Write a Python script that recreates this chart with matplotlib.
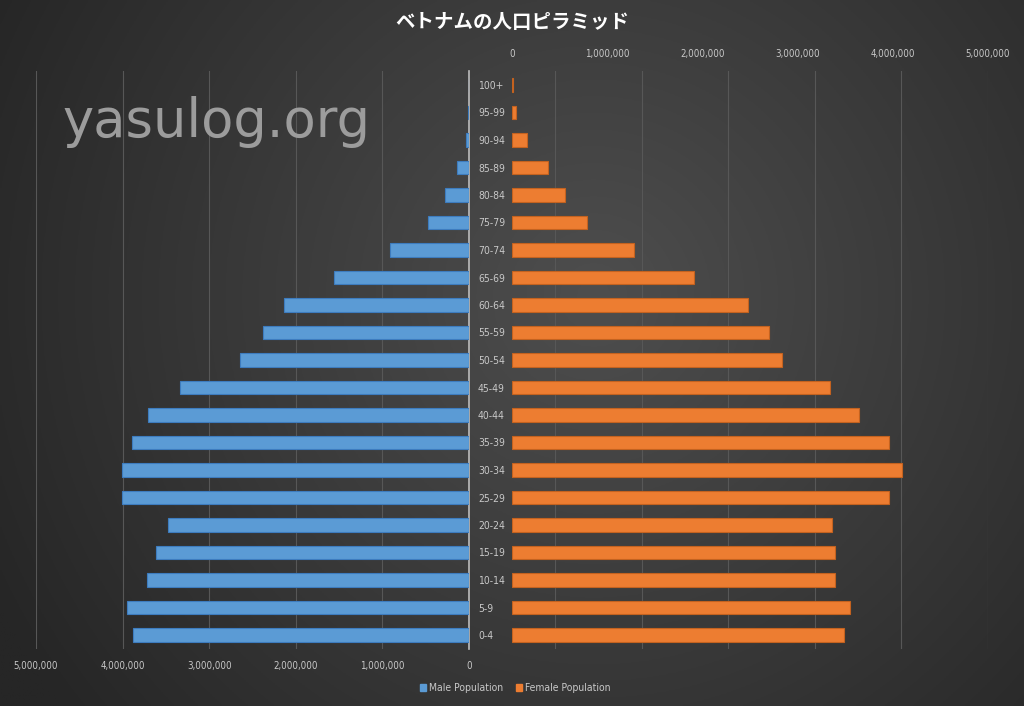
import matplotlib.pyplot as plt
import numpy as np
from matplotlib.patches import Patch
from matplotlib.ticker import FuncFormatter

# Data
ages = ['0-4', '5-9', '10-14', '15-19', '20-24', '25-29', '30-34', '35-39',
        '40-44', '45-49', '50-54', '55-59', '60-64', '65-69', '70-74',
        '75-79', '80-84', '85-89', '90-94', '95-99', '100+']
male = [3876000, 3946000, 3722000, 3614000, 3479000, 4007000, 4007000,
        3888000, 3710000, 3337000, 2644000, 2383000, 2133000, 1555000,
        916000, 477000, 277000, 135000, 38000, 12000, 3000]
female = [3490000, 3550000, 3390000, 3390000, 3360000, 3960000, 4100000,
          3960000, 3650000, 3340000, 2840000, 2696000, 2476000, 1915000,
          1286000, 785000, 561000, 378000, 158000, 39000, 10000]
ticks = [0, 1000000, 2000000, 3000000, 4000000, 5000000]
title = 'ベトナムの人口ピラミッド'
#!#

W, H = 1024, 706
blue, orange = '#5b9bd5', '#ed7d31'
txt = '#c8c8c8'
gridc = '#575757'
fmt = FuncFormatter(lambda v, p: '{:,}'.format(int(v)))

fig = plt.figure(figsize=(W / 100, H / 100), dpi=100)

# background: radial gradient
bg = fig.add_axes([0, 0, 1, 1])
yy, xx = np.mgrid[0:1:300j, 0:1:420j]
r = np.sqrt(((xx - 0.58) * 1.45) ** 2 + (yy - 0.42) ** 2)
r = np.clip(r / 0.95, 0, 1)
c0, c1 = np.array([0x4e, 0x4e, 0x4e]) / 255, np.array([0x26, 0x26, 0x26]) / 255
img = c0[None, None, :] * (1 - r[..., None]) + c1[None, None, :] * r[..., None]
bg.imshow(img, extent=[0, 1, 0, 1], aspect='auto', origin='upper')
bg.set_axis_off()

y = np.arange(len(ages))
bottom = (H - 648.75) / H
height = 577.5 / H


def narrow(labels):
    for lab in labels:
        lab.set_family('DejaVu Sans')
        lab.set_stretch('condensed')


# left (male)
axl = fig.add_axes([36 / W, bottom, 433 / W, height])
axl.barh(y, male, height=0.5, color=blue, edgecolor='#3d7cbf', linewidth=0.8, zorder=3)
axl.set_xlim(5000000, 0)
axl.set_ylim(-0.5, len(ages) - 0.5)
axl.set_xticks(ticks)
axl.xaxis.set_major_formatter(fmt)
axl.grid(axis='x', color=gridc, linewidth=0.8, zorder=0)
axl.set_yticks([])
axl.tick_params(axis='x', length=0, pad=9, labelsize=7, colors=txt)
for s in ['top', 'left', 'bottom']:
    axl.spines[s].set_visible(False)
axl.spines['right'].set_color('#bdbdbd')
axl.spines['right'].set_linewidth(1.2)
axl.patch.set_alpha(0)
narrow(axl.get_xticklabels())

# right gridlines (Excel places them on its own spacing)
axg = fig.add_axes([555 / W, bottom, 433 / W, height])
axg.set_xlim(0, 5000000)
axg.set_xticks(ticks)
axg.grid(axis='x', color=gridc, linewidth=0.8)
axg.set_yticks([])
axg.tick_params(axis='x', length=0, labelbottom=False)
for s in axg.spines.values():
    s.set_visible(False)
axg.patch.set_alpha(0)

# right (female)
axr = fig.add_axes([512 / W, bottom, 476 / W, height])
axr.barh(y, female, height=0.5, color=orange, edgecolor='#c4621f', linewidth=0.8, zorder=3)
axr.set_xlim(0, 5000000)
axr.set_ylim(-0.5, len(ages) - 0.5)
axr.set_xticks(ticks)
axr.xaxis.set_major_formatter(fmt)
axr.xaxis.tick_top()
axr.tick_params(axis='x', length=0, pad=9, labelsize=7, colors=txt)
axr.set_yticks(y)
axr.set_yticklabels(ages)
axr.tick_params(axis='y', length=0, pad=24.5, labelsize=7.5, colors=txt)
for lab in axr.get_yticklabels():
    lab.set_horizontalalignment('left')
narrow(axr.get_xticklabels())
narrow(axr.get_yticklabels())
for s in axr.spines.values():
    s.set_visible(False)
axr.patch.set_alpha(0)

# title
fig.text(0.5, 1 - 22 / H, title, ha='center', va='center', color='white',
         fontsize=14, fontweight='bold', family=['Noto Sans CJK JP', 'DejaVu Sans'])

# watermark
fig.text(62 / W, 1 - 137 / H, 'yasulog.org', ha='left', va='baseline',
         color='#9c9c9c', fontsize=38, family='DejaVu Sans')

# legend
handles = [Patch(color=blue, label='Male Population'),
           Patch(color=orange, label='Female Population')]
leg = fig.legend(handles=handles, loc='center', bbox_to_anchor=(515 / W, 1 - 688 / H),
                 ncol=2, frameon=False, handlelength=0.6,
                 handleheight=0.6, handletextpad=0.3, columnspacing=1.2,
                 labelcolor=txt, prop={'family': 'DejaVu Sans', 'stretch': 'condensed', 'size': 7.5})

fig.savefig('out.png', dpi=100)
